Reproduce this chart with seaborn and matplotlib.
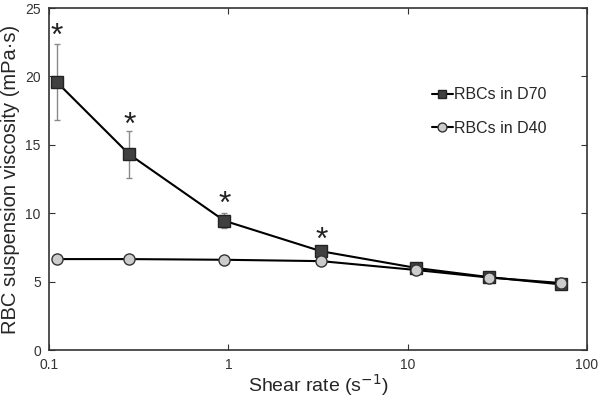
import numpy as np
import pandas as pd
import matplotlib
matplotlib.use("Agg")
import matplotlib.pyplot as plt
import seaborn as sns

# dados
shear = [0.11, 0.28, 0.95, 3.3, 11.2, 28.5, 72]
visc_d70 = [19.6, 14.3, 9.45, 7.22, 6.0, 5.33, 4.8]
err_d70 = [2.75, 1.7, 0.55, 0.0, 0.0, 0.0, 0.0]
visc_d40 = [6.65, 6.65, 6.6, 6.5, 5.85, 5.3, 4.9]
star_y = [22.9, 16.4, 10.6, 8.0]

sns.set_style("ticks")
plt.rcParams["font.family"] = ["Liberation Sans", "DejaVu Sans"]

df70 = pd.DataFrame({"shear": shear, "visc": visc_d70})
df40 = pd.DataFrame({"shear": shear, "visc": visc_d40})

fig = plt.figure(figsize=(6, 4.01), dpi=100)
ax = fig.add_axes([0.082, 0.127, 0.896, 0.853])

ax.errorbar(shear[:4], visc_d70[:4], yerr=err_d70[:4], fmt="none",
            ecolor="#8a8a8a", elinewidth=1, capsize=2, zorder=1)

sns.lineplot(data=df70, x="shear", y="visc", color="black", marker="s",
             markersize=8, markerfacecolor="#404040", markeredgecolor="#222222",
             markeredgewidth=1, linewidth=1.5, label="RBCs in D70", ax=ax, zorder=2)
sns.lineplot(data=df40, x="shear", y="visc", color="black", marker="o",
             markersize=8, markerfacecolor="#cccccc", markeredgecolor="#333333",
             markeredgewidth=1, linewidth=1.5, label="RBCs in D40", ax=ax, zorder=3)

# asteriscos de significancia
for xs, ys in zip(shear[:4], star_y):
    ax.text(xs, ys, "*", ha="center", va="center", fontsize=23, color="#222222")

ax.set_xscale("log")
ax.set_xlim(0.1, 100)
ax.set_ylim(0, 25)
ax.set_xticks([0.1, 1, 10, 100])
ax.set_xticklabels(["0.1", "1", "10", "100"])
ax.set_yticks([0, 5, 10, 15, 20, 25])
ax.minorticks_off()
ax.tick_params(direction="in", top=True, right=True, length=4, labelsize=10,
               colors="#333333", pad=6)
for s in ax.spines.values():
    s.set_color("#333333")
    s.set_linewidth(1.2)

ax.set_xlabel("Shear rate (s$^{-1}$)", fontsize=14, labelpad=0)
ax.set_ylabel("RBC suspension viscosity (mPa·s)", fontsize=14.5, labelpad=4)

leg = ax.legend(loc="upper left", bbox_to_anchor=(0.685, 0.81),
                frameon=False, fontsize=11.5, handlelength=1.3, handletextpad=0.1,
                labelspacing=1.15, markerscale=0.8)

fig.savefig("out.png", dpi=100)
